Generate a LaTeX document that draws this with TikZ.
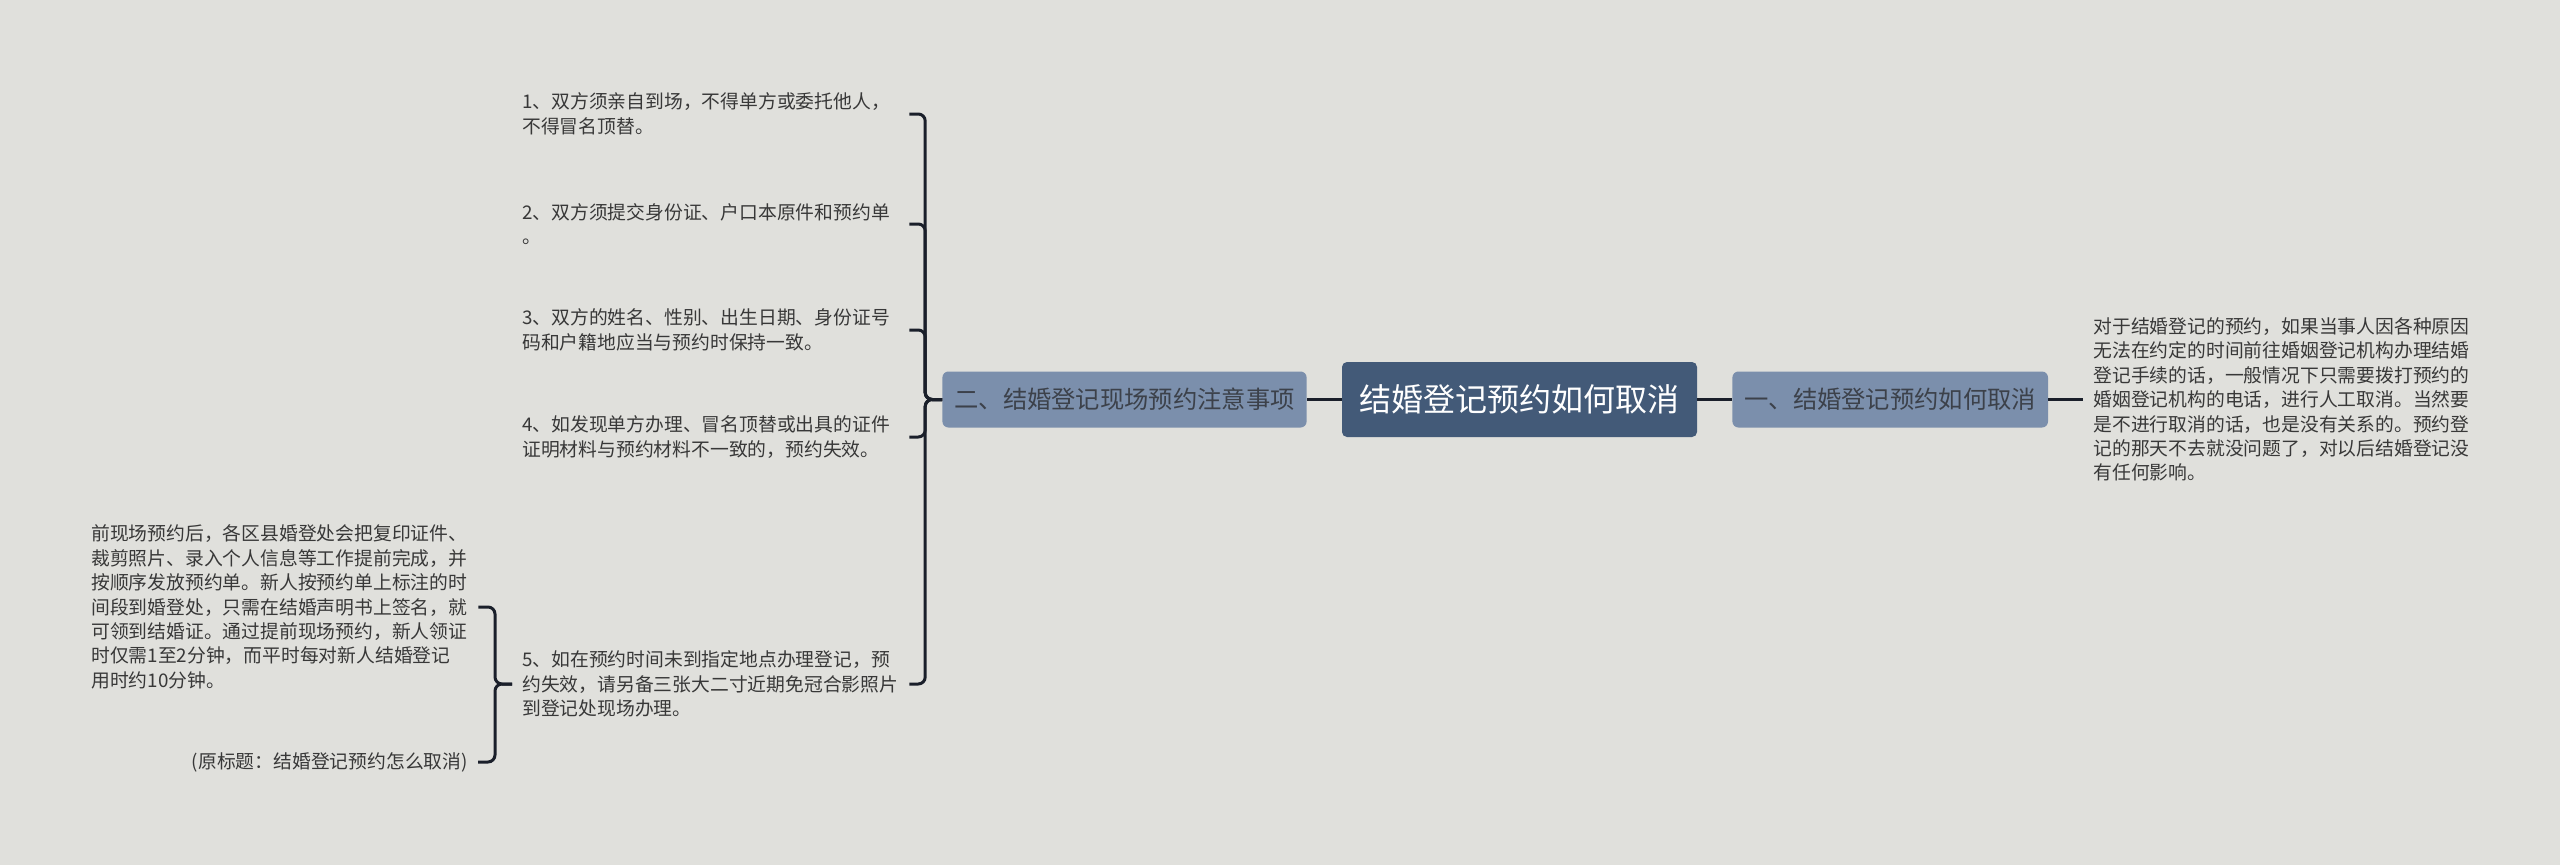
\documentclass[tikz,border=0pt]{standalone}
\usepackage{fontspec}
\setmainfont{Noto Sans CJK SC}
\usetikzlibrary{positioning}

\definecolor{bgc}{HTML}{E0E0DC}
\definecolor{rootc}{HTML}{435A78}
\definecolor{subc}{HTML}{7B8FAC}
\definecolor{linec}{HTML}{1A1F2A}
\definecolor{txtc}{HTML}{383838}

\tikzset{
  root/.style={fill=rootc, rounded corners=5pt, text=white, minimum width=355pt,
    minimum height=75pt, inner sep=0pt, font=\fontsize{32}{38}\selectfont},
  sub/.style={fill=subc, rounded corners=6pt, text=linec!85, minimum height=56pt,
    inner xsep=12pt, inner ysep=0pt, font=\fontsize{24.3}{29}\selectfont},
  leaf/.style={text=txtc, align=left, text width=377pt, inner xsep=10pt,
    font=\fontsize{18.8}{24.4}\selectfont},
  note/.style={text=txtc, align=right, inner xsep=10pt,
    font=\fontsize{18.8}{24.4}\selectfont},
  link/.style={draw=linec, line width=3pt, rounded corners=7pt},
}

\begin{document}
\begin{tikzpicture}[x=1pt, y=-1pt]
  \fill[bgc] (0,0) rectangle (2560,865);
  \useasboundingbox (0,0) rectangle (2560,865);

  % 1. 中心主题
  \node[root] (c) at (1519.5,399.5) {结婚登记预约如何取消};

  % 2. 两个分支
  \node[sub, right=35pt of c] (r_a) {一、结婚登记预约如何取消};
  \node[sub, left=35pt of c] (l_a) {二、结婚登记现场预约注意事项};

  % 右侧说明
  \node[leaf, text width=376pt, right=35pt of r_a] (r_t) {对于结婚登记的预约，如果当事人因各种原因\\无法在约定的时间前往婚姻登记机构办理结婚\\登记手续的话，一般情况下只需要拨打预约的\\婚姻登记机构的电话，进行人工取消。当然要\\是不进行取消的话，也是没有关系的。预约登\\记的那天不去就没问题了，对以后结婚登记没\\有任何影响。};

  % 3. 左侧五条注意事项
  \node[leaf, anchor=west] (l_1) at (512,114) {1、双方须亲自到场，不得单方或委托他人，\\不得冒名顶替。};
  \node[leaf, anchor=west] (l_2) at (512,224) {2、双方须提交身份证、户口本原件和预约单\\。};
  \node[leaf, anchor=west] (l_3) at (512,330) {3、双方的姓名、性别、出生日期、身份证号\\码和户籍地应当与预约时保持一致。};
  \node[leaf, anchor=west] (l_4) at (512,437) {4、如发现单方办理、冒名顶替或出具的证件\\证明材料与预约材料不一致的，预约失效。};
  \node[leaf, anchor=west] (l_5) at (512,684) {5、如在预约时间未到指定地点办理登记，预\\约失效，请另备三张大二寸近期免冠合影照片\\到登记处现场办理。};

  % 第5条的下级
  \node[leaf, anchor=west] (l_5a) at (81,607) {前现场预约后，各区县婚登处会把复印证件、\\裁剪照片、录入个人信息等工作提前完成，并\\按顺序发放预约单。新人按预约单上标注的时\\间段到婚登处，只需在结婚声明书上签名，就\\可领到结婚证。通过提前现场预约，新人领证\\时仅需1至2分钟，而平时每对新人结婚登记\\用时约10分钟。};
  \node[note, anchor=east] (l_5b) at (478,762) {(原标题：结婚登记预约怎么取消)};

  % 4. 连线
  \draw[link] (c.east) -- (r_a.west);
  \draw[link] (r_a.east) -- (r_t.west);
  \draw[link] (c.west) -- (l_a.east);
  \foreach \k in {1,...,5}
    \draw[link] (l_a.west) -- ++(-17,0) |- (l_\k.east);
  \foreach \k in {a,b}
    \draw[link] (l_5.west) -- ++(-17,0) |- (l_5\k.east);
\end{tikzpicture}
\end{document}
